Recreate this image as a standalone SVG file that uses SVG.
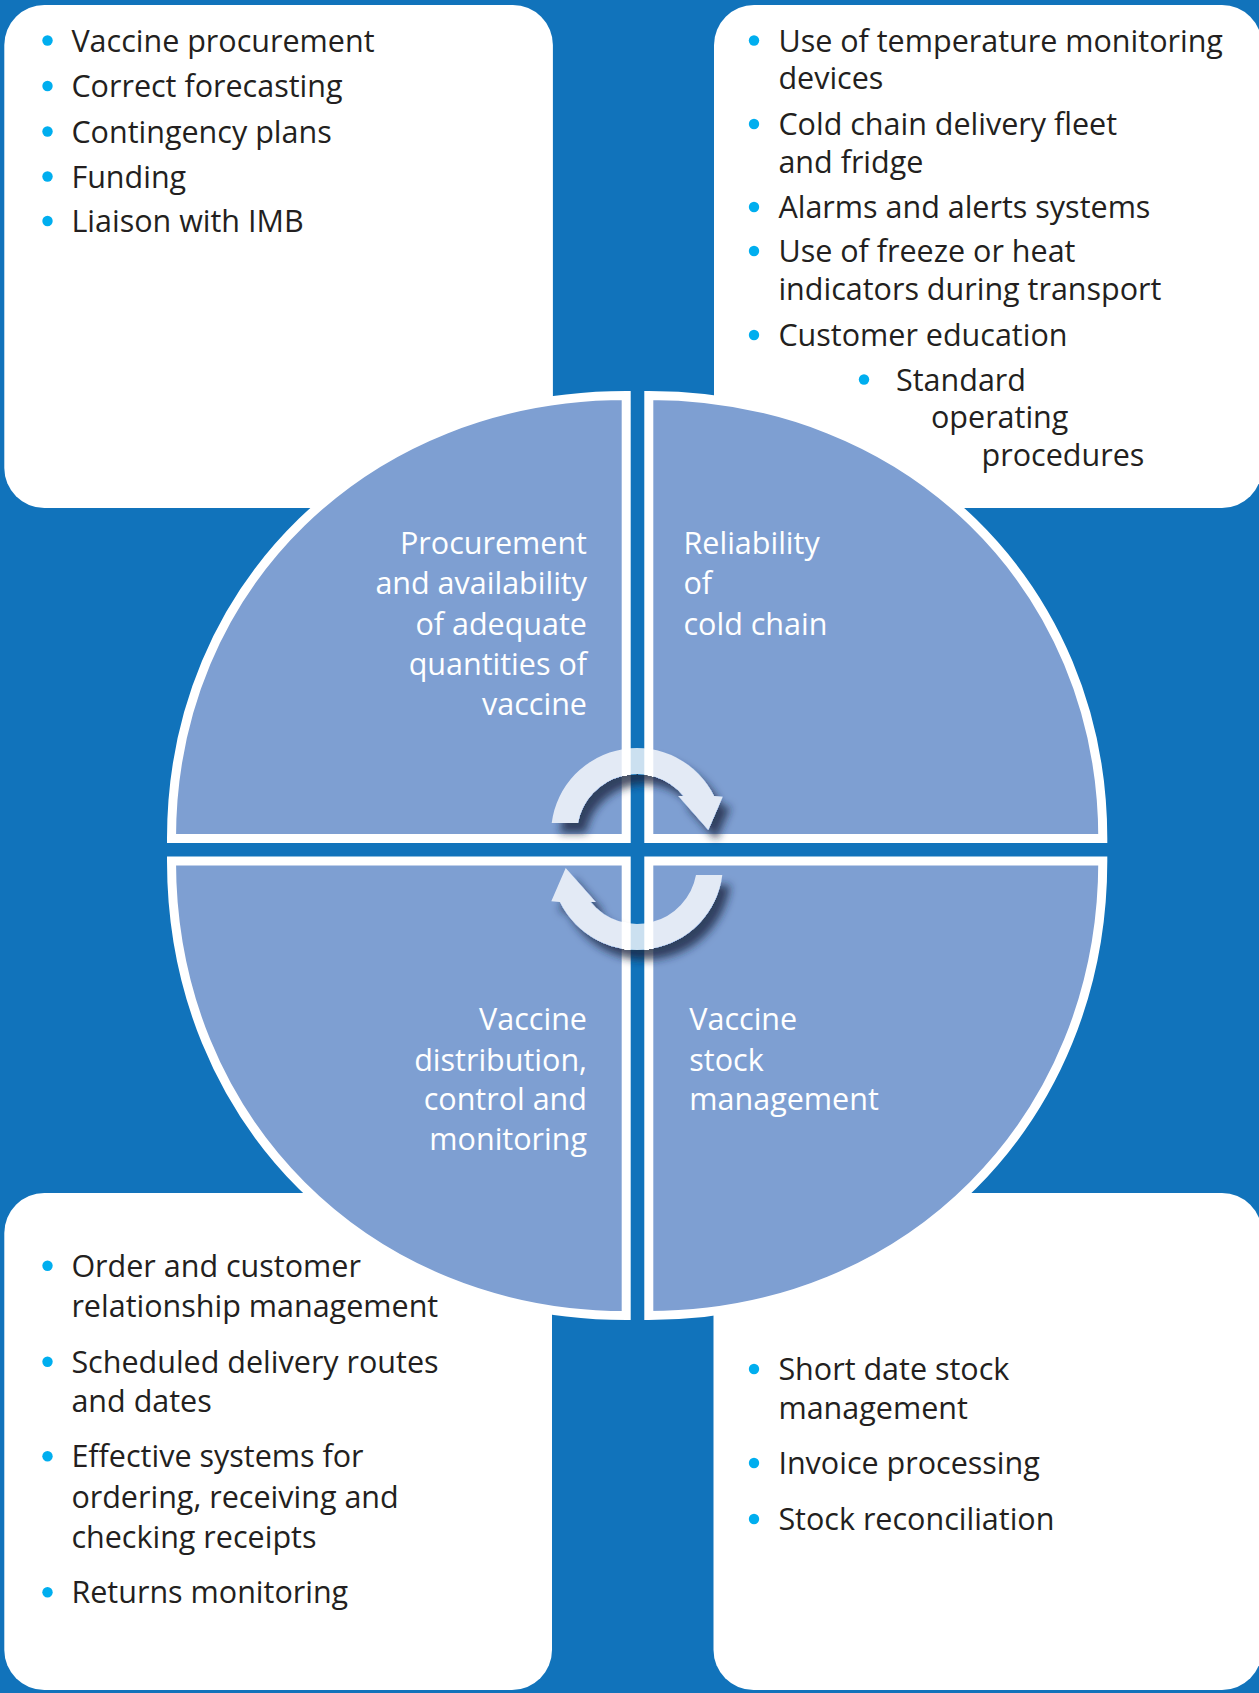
<svg xmlns="http://www.w3.org/2000/svg" width="1259" height="1693" viewBox="0 0 1259 1693">
<defs>
<style>
.box{fill:#ffffff}
.t{font-family:"Open Sans","Liberation Sans",sans-serif;font-size:30.5px;fill:#231f20}
.lbl{font-family:"Open Sans","Liberation Sans",sans-serif;font-size:30.5px;fill:#ffffff}
.r{text-anchor:end}
.dot{fill:#00aeef}
.q{fill:#7e9fd2;stroke:#ffffff;stroke-width:9;stroke-linejoin:miter}
.arrow{fill:#ffffff;fill-opacity:0.78}
</style>
<filter id="sh" x="-40%" y="-40%" width="180%" height="180%">
<feGaussianBlur in="SourceAlpha" stdDeviation="4.5" result="b"/>
<feOffset in="b" dx="8" dy="10" result="o"/>
<feFlood flood-color="#1a2540" flood-opacity="1"/>
<feComposite operator="in" in2="o" result="s"/>
<feComponentTransfer in="SourceAlpha" result="m"><feFuncA type="linear" slope="10"/></feComponentTransfer>
<feComposite operator="out" in="s" in2="m" result="s2"/>
<feMerge><feMergeNode in="s2"/><feMergeNode in="SourceGraphic"/></feMerge>
</filter>
</defs>
<rect x="0" y="0" width="1259" height="1693" fill="#1173bb"/>

<g id="box-top-left">
<rect class="box" x="4.3" y="5" width="548.6" height="503" rx="40"/>
<circle class="dot" cx="47.5" cy="40.5" r="5.2"/>
<circle class="dot" cx="47.5" cy="86" r="5.2"/>
<circle class="dot" cx="47.5" cy="131.5" r="5.2"/>
<circle class="dot" cx="47.5" cy="176.5" r="5.2"/>
<circle class="dot" cx="47.5" cy="221" r="5.2"/>
<text class="t" x="71.4" y="51.7">Vaccine procurement</text>
<text class="t" x="71.4" y="97.3">Correct forecasting</text>
<text class="t" x="71.4" y="142.7">Contingency plans</text>
<text class="t" x="71.4" y="187.7">Funding</text>
<text class="t" x="71.4" y="232.3">Liaison with IMB</text>
</g>

<g id="box-top-right">
<rect class="box" x="714" y="5" width="548" height="503" rx="40"/>
<circle class="dot" cx="754" cy="40.5" r="5.2"/>
<circle class="dot" cx="754" cy="124" r="5.2"/>
<circle class="dot" cx="754" cy="207" r="5.2"/>
<circle class="dot" cx="754" cy="251" r="5.2"/>
<circle class="dot" cx="754" cy="335" r="5.2"/>
<circle class="dot" cx="864" cy="379.5" r="5.2"/>
<text class="t" x="778.4" y="51.7">Use of temperature monitoring</text>
<text class="t" x="778.4" y="89.3">devices</text>
<text class="t" x="778.4" y="135">Cold chain delivery fleet</text>
<text class="t" x="778.4" y="173.3">and fridge</text>
<text class="t" x="778.4" y="218.3">Alarms and alerts systems</text>
<text class="t" x="778.4" y="262.3">Use of freeze or heat</text>
<text class="t" x="778.4" y="300">indicators during transport</text>
<text class="t" x="778.4" y="346">Customer education</text>
<text class="t" x="896" y="390.7">Standard</text>
<text class="t" x="931" y="428">operating</text>
<text class="t" x="981.6" y="466">procedures</text>
</g>

<g id="box-bottom-left">
<rect class="box" x="4.3" y="1193" width="547.7" height="497" rx="40"/>
<circle class="dot" cx="47.5" cy="1265.7" r="5.2"/>
<circle class="dot" cx="47.5" cy="1361.7" r="5.2"/>
<circle class="dot" cx="47.5" cy="1456.3" r="5.2"/>
<circle class="dot" cx="47.5" cy="1592.3" r="5.2"/>
<text class="t" x="71.4" y="1276.7">Order and customer</text>
<text class="t" x="71.4" y="1316.7">relationship management</text>
<text class="t" x="71.4" y="1372.7">Scheduled delivery routes</text>
<text class="t" x="71.4" y="1412.3">and dates</text>
<text class="t" x="71.4" y="1467.3">Effective systems for</text>
<text class="t" x="71.4" y="1508.3">ordering, receiving and</text>
<text class="t" x="71.4" y="1548.3">checking receipts</text>
<text class="t" x="71.4" y="1603.3">Returns monitoring</text>
</g>

<g id="box-bottom-right">
<rect class="box" x="713.5" y="1193" width="548.5" height="497" rx="40"/>
<circle class="dot" cx="754" cy="1369" r="5.2"/>
<circle class="dot" cx="754" cy="1463" r="5.2"/>
<circle class="dot" cx="754" cy="1519" r="5.2"/>
<text class="t" x="778.4" y="1380">Short date stock</text>
<text class="t" x="778.4" y="1419.3">management</text>
<text class="t" x="778.4" y="1474">Invoice processing</text>
<text class="t" x="778.4" y="1530">Stock reconciliation</text>
</g>

<g id="quadrant-procurement">
<path class="q" d="M626.2,838.5 L171.5,838.5 C171.5,586 367,395.5 626.2,395.5 Z"/>
<text class="lbl r" x="587" y="554">Procurement</text>
<text class="lbl r" x="587" y="594">and availability</text>
<text class="lbl r" x="587" y="634.5">of adequate</text>
<text class="lbl r" x="587" y="675">quantities of</text>
<text class="lbl r" x="587" y="715">vaccine</text>
</g>

<g id="quadrant-cold-chain">
<path class="q" d="M648.8,838.5 L1102.8,838.5 C1102.8,586 907.6,395.5 648.8,395.5 Z"/>
<text class="lbl" x="683.5" y="554">Reliability</text>
<text class="lbl" x="683.5" y="594">of</text>
<text class="lbl" x="683.5" y="634.5">cold chain</text>
</g>

<g id="quadrant-distribution">
<path class="q" d="M626.2,861 L171.5,861 C171.5,1120.1 367,1315.5 626.2,1315.5 Z"/>
<text class="lbl r" x="587" y="1030">Vaccine</text>
<text class="lbl r" x="587" y="1070.7">distribution,</text>
<text class="lbl r" x="587" y="1110">control and</text>
<text class="lbl r" x="587" y="1150">monitoring</text>
</g>

<g id="quadrant-stock">
<path class="q" d="M648.8,861 L1102.8,861 C1102.8,1120.1 907.6,1315.5 648.8,1315.5 Z"/>
<text class="lbl" x="689.3" y="1030">Vaccine</text>
<text class="lbl" x="689.3" y="1070.7">stock</text>
<text class="lbl" x="689.3" y="1110">management</text>
</g>

<g id="connectors" filter="url(#sh)">
<path class="arrow" d="M551.7,823 A86,86 0 0 1 714.1,796 L722.7,796.7 L708.3,830 L678.3,796 L683.4,796 A60,60 0 0 0 578,823 Z"/>
<path class="arrow" transform="rotate(180 637 849)" d="M551.7,823 A86,86 0 0 1 714.1,796 L722.7,796.7 L708.3,830 L678.3,796 L683.4,796 A60,60 0 0 0 578,823 Z"/>
</g>
</svg>
